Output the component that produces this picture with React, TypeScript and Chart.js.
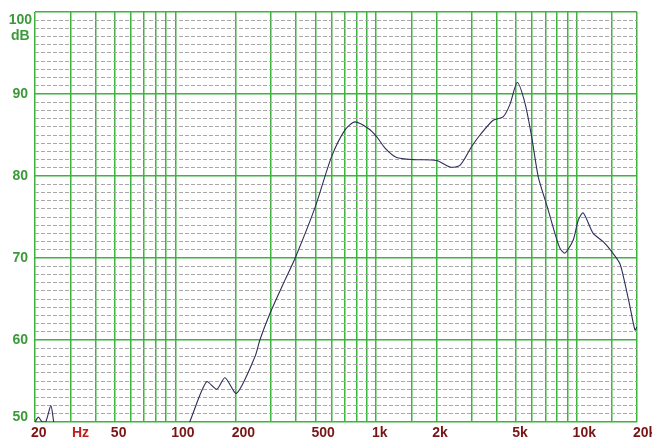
import React, { useEffect, useRef } from 'react';
import { Chart, registerables } from 'chart.js';

Chart.register(...registerables);

// Frequency response
const freqHz = [
  20, 20.8, 21.7, 22.6, 24.0, 24.8, 26, 40, 70, 100,
  112, 118, 143, 161, 177, 202, 250, 264, 296, 352,
  396, 498, 600, 700, 786, 916, 1008, 1110, 1260, 1535,
  2007, 2338, 2622, 3000, 3300, 3840, 4300, 4650, 5060, 5530,
  5970, 6440, 7090, 7800, 8260, 8750, 9620, 10190, 10790, 12100,
  13570, 14940, 16440, 17410, 18440, 19550, 20000,
];
const levelDb = [
  50, 50.6, 50.0, 50.0, 52.0, 50.0, 48, 47, 46, 47,
  48.8, 50, 54.9, 54.0, 55.4, 53.5, 58.0, 60.0, 63.2, 67.3,
  70.0, 76.2, 82.3, 85.6, 86.6, 85.8, 84.8, 83.4, 82.3, 82.0,
  81.9, 81.1, 81.3, 83.6, 85.0, 86.8, 87.2, 88.7, 91.4, 88.9,
  84.8, 79.9, 76.5, 73.0, 71.2, 70.6, 72.2, 74.6, 75.5, 73.0,
  72.0, 70.8, 69.3, 66.9, 64.1, 61.2, 61.6,
];

// Axes
const xMin = 20;
const xMax = 20000;
const xGridFreqs = [
  20, 30, 40, 50, 60, 70, 80, 90,
  100, 200, 300, 400, 500, 600, 700, 800, 900,
  1000, 1500, 2000, 3000, 4000, 5000, 6000, 7000, 8000, 9000,
  10000, 15000, 20000,
];
const xLabelFreqs = [20, 50, 100, 200, 500, 1000, 2000, 5000, 10000, 20000];
const xLabelTexts = ['20', '50', '100', '200', '500', '1k', '2k', '5k', '10k', '20k'];
const xUnitFreq = 32;
const xUnitText = 'Hz';

const yMin = 50;
const yMax = 100;
const yMajorTicks = [50, 60, 70, 80, 90, 100];
const yMinorStep = 1;
const yUnitText = 'dB';

const GREEN_GRID = '#3db43d';
const GREEN_TEXT = '#3a9a3a';
const RED_TEXT = '#7a1515';
const RED_UNIT = '#c02020';
const GRAY_MINOR = '#a8a8a8';
const LINE_COLOR = '#2d2d5c';
const FONT_FAMILY = "'Liberation Sans', Arial, sans-serif";

export default function App() {
  const ref = useRef<HTMLCanvasElement | null>(null);

  useEffect(() => {
    if (!ref.current) return;
    const baseFont = { family: FONT_FAMILY, size: 14, weight: 'bold' as const };

    const chart = new Chart(ref.current, {
      type: 'line',
      data: {
        datasets: [
          {
            data: freqHz.map((f, i) => ({ x: f, y: levelDb[i] })),
            borderColor: LINE_COLOR,
            borderWidth: 1.1,
            pointRadius: 0,
            tension: 0.25,
            fill: false,
          },
        ],
      },
      options: {
        animation: false,
        responsive: true,
        maintainAspectRatio: false,
        layout: { padding: { top: 12, right: 15, left: 0, bottom: 0 } },
        plugins: {
          legend: { display: false },
          tooltip: { enabled: false },
        },
        scales: {
          x: {
            type: 'logarithmic',
            min: xMin,
            max: xMax,
            afterBuildTicks: (s: any) => {
              s.ticks = [...xGridFreqs, xUnitFreq]
                .sort((a, b) => a - b)
                .map((v) => ({ value: v }));
            },
            afterFit: (s: any) => {
              s.height = 16;
              s.paddingLeft = 0;
              s.paddingRight = 0;
            },
            grid: {
              color: (c: any) =>
                c.tick && c.tick.value === xUnitFreq ? 'rgba(0,0,0,0)' : GREEN_GRID,
              lineWidth: 1.5,
              drawTicks: false,
            },
            border: { display: false },
            ticks: {
              autoSkip: false,
              maxRotation: 0,
              minRotation: 0,
              align: 'start',
              labelOffset: -4,
              padding: 3,
              font: baseFont,
              color: (c: any) =>
                c.tick && c.tick.value === xUnitFreq ? RED_UNIT : RED_TEXT,
              callback: (v: any) => {
                if (v === xUnitFreq) return xUnitText;
                const i = xLabelFreqs.indexOf(v);
                return i >= 0 ? xLabelTexts[i] : '';
              },
            },
          },
          yMinor: {
            type: 'linear',
            position: 'left',
            min: yMin,
            max: yMax,
            afterBuildTicks: (s: any) => {
              const t: { value: number }[] = [];
              for (let v = yMin; v <= yMax; v += yMinorStep) {
                if (!yMajorTicks.includes(v)) t.push({ value: v });
              }
              s.ticks = t;
            },
            afterFit: (s: any) => {
              s.width = 0;
              s.paddingTop = 0;
              s.paddingBottom = 0;
            },
            grid: { color: GRAY_MINOR, lineWidth: 1, drawTicks: false, z: -1 },
            border: { display: false, dash: [4, 2] },
            ticks: { display: false },
          },
          y: {
            type: 'linear',
            position: 'left',
            min: yMin,
            max: yMax,
            afterBuildTicks: (s: any) => {
              s.ticks = yMajorTicks.map((v) => ({ value: v }));
            },
            afterFit: (s: any) => {
              s.width = 35;
              s.paddingTop = 0;
              s.paddingBottom = 0;
            },
            grid: { color: GREEN_GRID, lineWidth: 1.5, drawTicks: false, z: 0 },
            border: { display: false },
            ticks: {
              padding: 3,
              crossAlign: 'center',
              color: GREEN_TEXT,
              font: (c: any) => {
                const v = c.tick ? c.tick.value : 0;
                if (v === yMax) return { ...baseFont, lineHeight: '16px' };
                if (v === yMin) return { ...baseFont, lineHeight: '9px' };
                return baseFont;
              },
              callback: (v: any) => {
                if (v === yMax) return ['', '', String(v), yUnitText];
                if (v === yMin) return [String(v), ''];
                return String(v);
              },
            },
          },
        },
      },
    } as any);

    return () => chart.destroy();
  }, []);

  return (
    <div
      style={{
        position: 'fixed',
        left: 0,
        top: 0,
        width: 652,
        height: 438,
        background: '#ffffff',
      }}
    >
      <canvas ref={ref} />
    </div>
  );
}
